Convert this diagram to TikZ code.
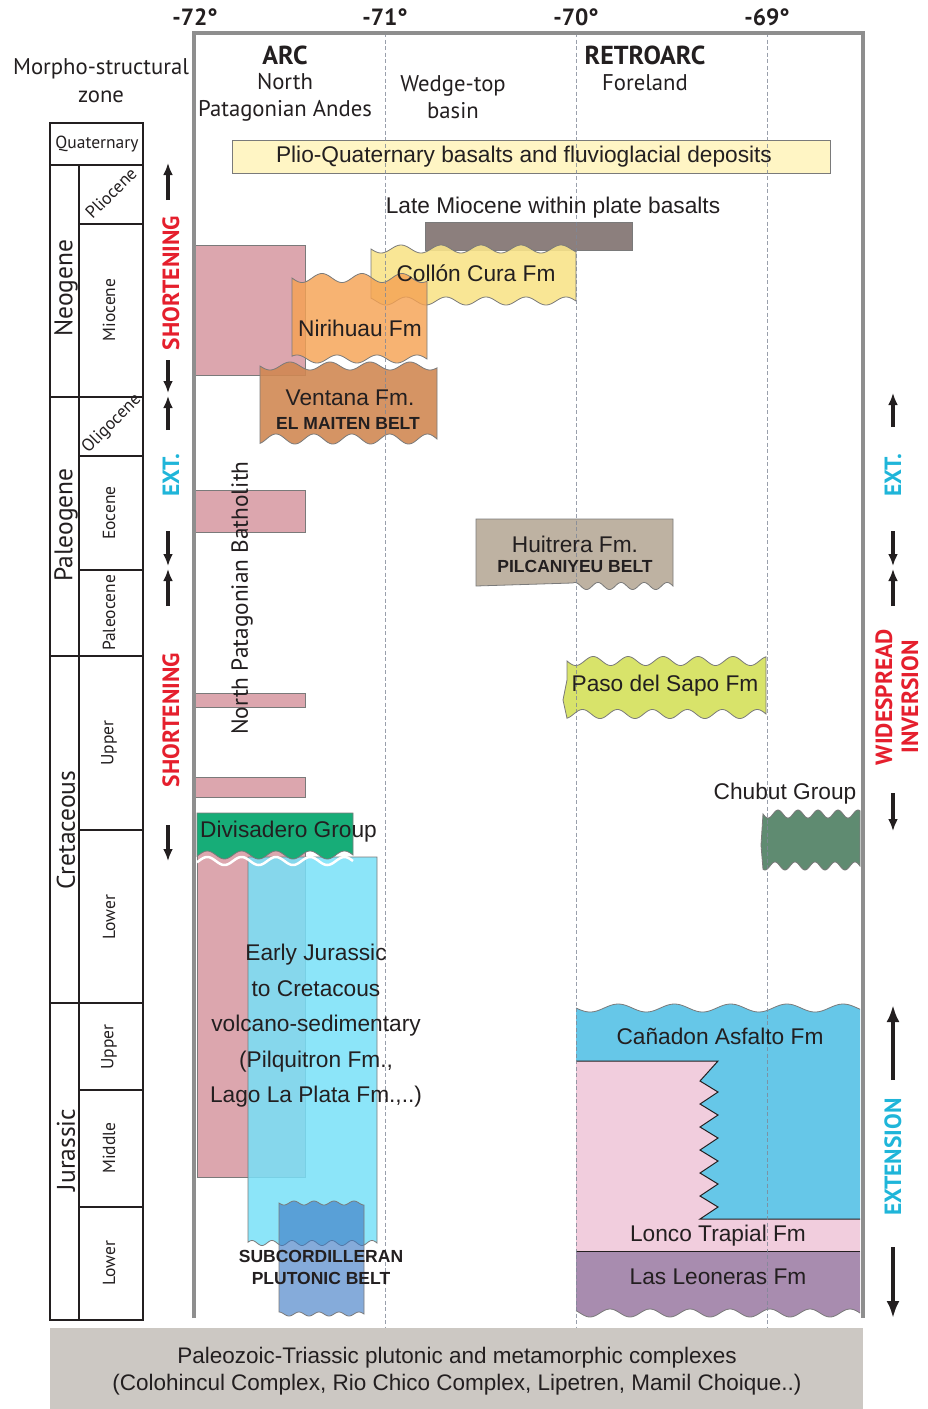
\documentclass[tikz,border=0pt]{standalone}
\usepackage{fontspec}
\setmainfont{Liberation Sans}
\newfontfamily\myr{PT Sans}
\usetikzlibrary{arrows.meta}
\definecolor{frameg}{HTML}{8E8E8E}
\definecolor{lonl}{HTML}{7F8796}
\definecolor{boxl}{HTML}{7A7A7A}
\definecolor{txt}{HTML}{231F20}
\definecolor{redt}{HTML}{E51F2D}
\definecolor{cyant}{HTML}{1FB5D9}
\definecolor{pq}{HTML}{FFF5C4}
\definecolor{lmb}{HTML}{8C7F7D}
\definecolor{collon}{HTML}{F8E38A}
\definecolor{niri}{HTML}{F5A253}
\definecolor{vent}{HTML}{D08853}
\definecolor{npb}{HTML}{DCA6AE}
\definecolor{divi}{HTML}{17AD78}
\definecolor{ejc}{HTML}{78E0F8}
\definecolor{subc}{HTML}{3A78C4}
\definecolor{huit}{HTML}{BEB2A2}
\definecolor{paso}{HTML}{D8E36A}
\definecolor{chub}{HTML}{5F8B71}
\definecolor{cana}{HTML}{66C7E8}
\definecolor{lonco}{HTML}{F1CDDD}
\definecolor{leon}{HTML}{A88CAF}
\definecolor{basec}{HTML}{CCC8C3}
\definecolor{colk}{HTML}{231F20}
\newcommand\fs[2]{\fontsize{#1}{#2}\selectfont}
\begin{document}
\begin{tikzpicture}[x=1pt,y=-1pt,
  wv/.style n args={5}{insert path={-- plot[domain=#1:#2,samples=140] (\x,{#3+#4*sin(#5*(\x-#1))})}},
  box/.style={draw=boxl,line width=0.8pt},
  arr/.style={-{Latex[length=12pt,width=10pt]},line width=3.2pt,draw=colk},
  bigarr/.style={-{Latex[length=17pt,width=13pt]},line width=4.6pt,draw=colk},
  tx/.style={inner sep=0pt,text=txt,font=\fs{22.7}{27}},
  ms/.style={inner sep=0pt,text=txt,font=\myr\fs{22.7}{27}},
  bsm/.style={inner sep=0pt,text=txt,font=\bfseries\fs{17.5}{21}},
  per/.style={inner sep=0pt,text=txt,font=\myr\fs{25.5}{28},rotate=90},
  epo/.style={inner sep=0pt,text=txt,font=\myr\fs{17.5}{20}},
  tect/.style={inner sep=0pt,font=\myr\bfseries\fs{23.5}{27},rotate=90},
  lonlab/.style={inner sep=0pt,text=txt,font=\myr\bfseries\fs{23.5}{27}},
  lonline/.style={draw=lonl,line width=0.9pt,dash pattern=on 4pt off 2.5pt},
  colline/.style={draw=colk,line width=2.2pt},
  frameline/.style={draw=frameg,line width=3.5pt},
]
\useasboundingbox (0,0) rectangle (927,1409);

% basement
\fill[basec] (50,1328) rectangle (863,1409);

% stratigraphic column
\draw[colline] (50,123) rectangle (143,1320);
\draw[colline] (50,165) -- (143,165);
\draw[colline] (79,165) -- (79,1320);
\foreach \y in {397,656,1003} \draw[colline] (50,\y) -- (143,\y);
\foreach \y in {224,456,570,830,1090,1207} \draw[colline] (79,\y) -- (143,\y);

\node[epo] (qua) at (97,144) {Quaternary};
\node[epo,rotate=45] (plio) at (111,193) {Pliocene};
\node[epo,rotate=90] (mio) at (109,310) {Miocene};
\node[epo,rotate=45] (oli) at (112,424) {Oligocene};
\node[epo,rotate=90] (eoc) at (109,513) {Eocene};
\node[epo,rotate=90] (pal) at (109,613) {Paleocene};
\node[epo,rotate=90] (ucr) at (109,743) {Upper};
\node[epo,rotate=90] (lcr) at (109,917) {Lower};
\node[epo,rotate=90] (uju) at (109,1047) {Upper};
\node[epo,rotate=90] (mju) at (109,1148) {Middle};
\node[epo,rotate=90] (lju) at (109,1263) {Lower};
\node[per] (neo) at (66,288) {Neogene};
\node[per] (pag) at (66,525) {Paleogene};
\node[per] (cre) at (66,830) {Cretaceous};
\node[per] (jur) at (66,1150) {Jurassic};

% headings
\node[ms,align=center,font=\myr\fs{22.7}{28}] (morph) at (101,81) {Morpho-structural\\zone};
\node[lonlab,font=\myr\bfseries\fs{26}{30}] (arc) at (285,55) {ARC};
\node[ms,align=center] (npa) at (285,97) {North\\Patagonian Andes};
\node[ms,align=center] (wtb) at (453,97) {Wedge-top\\basin};
\node[lonlab,font=\myr\bfseries\fs{26}{30}] (retro) at (645,55) {RETROARC};
\node[ms] (fore) at (645,83) {Foreland};
\node[lonlab] (l72) at (195,17) {-72°};
\node[lonlab] (l71) at (385,17) {-71°};
\node[lonlab] (l70) at (576,17) {-70°};
\node[lonlab] (l69) at (767,17) {-69°};

% ---- units ----
\filldraw[box,fill=pq] (232,140) rectangle (830,173);
\filldraw[box,fill=lmb] (425,222) rectangle (632,250);
\filldraw[box,fill=collon,fill opacity=0.9] (371,249) [wv={371}{576}{249}{4}{9}] -- (576,301) [wv={576}{371}{301}{4}{9}] -- cycle;
\filldraw[box,fill=npb] (195,245) rectangle (305,375);
\filldraw[box,fill=npb] (195,490) rectangle (305,532);
\filldraw[box,fill=npb] (195,693) rectangle (305,707);
\filldraw[box,fill=npb] (195,777) rectangle (305,797);
\filldraw[box,fill=niri,fill opacity=0.82] (292,278) [wv={292}{427}{278}{4.5}{9}] -- (427,359) [wv={427}{292}{359}{4}{9}] -- cycle;
\filldraw[box,fill=vent,fill opacity=0.9] (260,366) [wv={260}{437}{366}{4}{9}] -- (437,439) [wv={437}{260}{439}{5}{9.5}] -- cycle;

% lower arc
\filldraw[box,fill=npb] (197,845) rectangle (305,1177);
\filldraw[box,fill=ejc,fill opacity=0.85] (248,857) -- (377,857) -- (377,1243) [wv={377}{248}{1243}{2.5}{18}] -- cycle;
\filldraw[box,fill=subc,fill opacity=0.62] (279,1203) [wv={279}{364}{1203}{2}{18}] -- (364,1314) [wv={364}{279}{1314}{2}{18}] -- cycle;
\draw[white,line width=2.5pt] (353,861) [wv={353}{197}{861}{4}{10.5}];
\filldraw[box,fill=divi] (197,813) -- (353,813) -- (353,855) [wv={353}{197}{855}{4}{10.5}] -- cycle;

% retroarc
\filldraw[box,fill=huit] (476,519) -- (673,519) -- (673,586) [wv={673}{573}{586}{3.5}{15.6}] -- (476,586) -- cycle;
\filldraw[box,fill=paso] (567,661) [wv={567}{766}{661}{4.5}{10.3}] -- (766,714) [wv={766}{567}{714}{4.5}{10.3}] -- (563,700) -- (567,680) -- cycle;
\filldraw[box,fill=chub] (763,814) [wv={763}{860}{814}{4}{18}] -- (860,866) [wv={860}{763}{866}{4}{18}] -- (761,845) -- cycle;
\fill[cana] (576,1008) [wv={576}{860}{1008}{4}{6.4}] -- (860,1219) -- (576,1219) -- cycle;
\draw[boxl,line width=0.8pt] (576,1008) [wv={576}{860}{1008}{4}{6.4}];
\fill[lonco] (576,1061) -- (718,1061) -- (700,1081) -- (718,1092) -- (700,1104) -- (718,1115) -- (700,1127) -- (718,1138) -- (700,1150) -- (718,1161) -- (700,1173) -- (718,1184) -- (700,1196) -- (718,1207) -- (700,1219) -- (860,1219) -- (860,1251) -- (576,1251) -- cycle;
\draw[colk,line width=1pt] (576,1061) -- (718,1061) -- (700,1081) -- (718,1092) -- (700,1104) -- (718,1115) -- (700,1127) -- (718,1138) -- (700,1150) -- (718,1161) -- (700,1173) -- (718,1184) -- (700,1196) -- (718,1207) -- (700,1219) -- (860,1219);
\fill[leon] (576,1251) -- (860,1251) -- (860,1313) [wv={860}{576}{1313}{4}{9}] -- cycle;
\draw[boxl,line width=0.8pt] (860,1313) [wv={860}{576}{1313}{4}{9}];
\draw[colk,line width=1pt] (576,1251) -- (860,1251);

% longitude lines and frame
\foreach \xx in {385,576,767} \draw[lonline,opacity=0.8] (\xx,33) -- (\xx,1328);
\draw[frameline] (194,1318) -- (194,33) -- (863,33) -- (863,1318);

% texts
\node[tx] (plqt) at (524,157) {Plio-Quaternary basalts and fluvioglacial deposits};
\node[tx] (lmbt) at (553,208) {Late Miocene within plate basalts};
\node[tx] (colt) at (476,273) {Collón Cura Fm};
\node[tx] (nirt) at (360,328) {Nirihuau Fm};
\node[tx] (vent) at (350,398) {Ventana Fm.};
\node[bsm] (vbelt) at (348,423) {EL MAITEN BELT};
\node[ms,rotate=90,font=\myr\fs{23.3}{27}] (npbt) at (242,598) {North Patagonian Batholith};
\node[tx] (huitt) at (575,544) {Huitrera Fm.};
\node[bsm] (hbelt) at (575,566) {PILCANIYEU BELT};
\node[tx] (pasot) at (665,686) {Paso del Sapo Fm};
\node[tx] (chubt) at (785,794) {Chubut Group};
\node[tx,anchor=west] (divt) at (200,832) {Divisadero Group};
\node[tx,align=center,font=\fs{22.7}{35.5}] (ejt) at (316,1026) {Early Jurassic\\to Cretacous\\volcano-sedimentary\\(Pilquitron Fm.,\\Lago La Plata Fm.,..)};
\node[bsm,align=center,font=\bfseries\fs{17.5}{22}] (subt) at (321,1267) {SUBCORDILLERAN\\PLUTONIC BELT};
\node[tx] (canat) at (720,1036) {Cañadon Asfalto Fm};
\node[tx] (lonct) at (718,1236) {Lonco Trapial Fm};
\node[tx] (leont) at (718,1277) {Las Leoneras Fm};
\node[tx,align=center,font=\fs{22.5}{27}] (bast) at (457,1371) {Paleozoic-Triassic plutonic and metamorphic complexes\\(Colohincul Complex, Rio Chico Complex, Lipetren, Mamil Choique..)};

% tectonic regimes, left
\node[tect,text=redt] (sh1) at (171,283) {SHORTENING};
\node[tect,text=cyant] (ex1) at (171,475) {EXT.};
\node[tect,text=redt] (sh2) at (171,720) {SHORTENING};
\draw[arr] (168,200) -- (168,163);
\draw[arr] (168,360) -- (168,393);
\draw[arr] (168,430) -- (168,396);
\draw[arr] (168,531) -- (168,566);
\draw[arr] (168,606) -- (168,569);
\draw[arr] (168,825) -- (168,861);
% right
\node[tect,text=cyant] (ex2) at (893,475) {EXT.};
\node[tect,text=redt] (wid) at (884,697) {WIDESPREAD};
\node[tect,text=redt] (inv) at (910,697) {INVERSION};
\node[tect,text=cyant] (ext) at (893,1157) {EXTENSION};
\draw[arr] (893,427) -- (893,393);
\draw[arr] (893,531) -- (893,566);
\draw[arr] (893,606) -- (893,569);
\draw[arr] (893,793) -- (893,831);
\draw[bigarr] (893,1080) -- (893,1005);
\draw[bigarr] (893,1247) -- (893,1318);
\end{tikzpicture}
\end{document}
